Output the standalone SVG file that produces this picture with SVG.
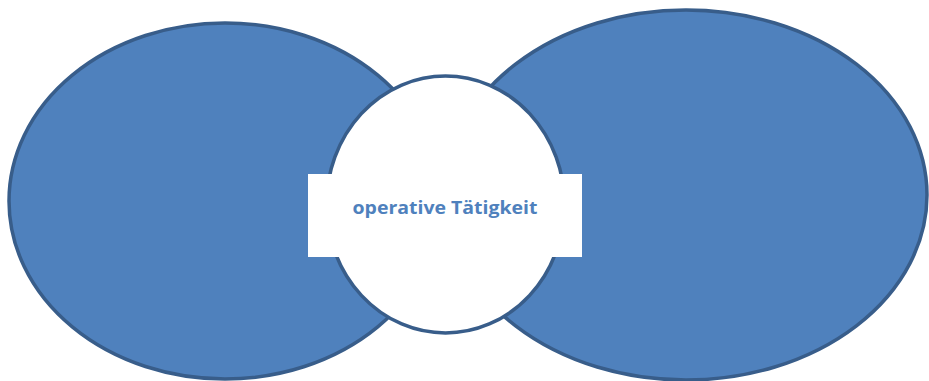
<svg xmlns="http://www.w3.org/2000/svg" width="929" height="381" viewBox="0 0 929 381">
<style>
.big{fill:#4F81BD;stroke:#385D8A;stroke-width:3.5}
.mid{fill:#FFFFFF;stroke:#385D8A;stroke-width:3.5}
.lbl{font-family:"Open Sans","Liberation Sans",sans-serif;font-weight:bold;font-size:18px;fill:#4F81BD}
</style>
<rect width="929" height="381" fill="#FFFFFF"/>
<g id="left-ellipse"><ellipse class="big" cx="225" cy="201" rx="216" ry="178"/></g>
<g id="right-ellipse"><ellipse class="big" cx="686" cy="195" rx="241" ry="185"/></g>
<g id="center-circle">
<ellipse class="mid" cx="445.5" cy="204.5" rx="119" ry="128.5"/>
<rect x="308" y="174" width="274" height="83" fill="#FFFFFF"/>
<text class="lbl" x="445" y="214" text-anchor="middle" textLength="185" lengthAdjust="spacingAndGlyphs">operative Tätigkeit</text>
</g>
<g id="connectors"/>
</svg>
